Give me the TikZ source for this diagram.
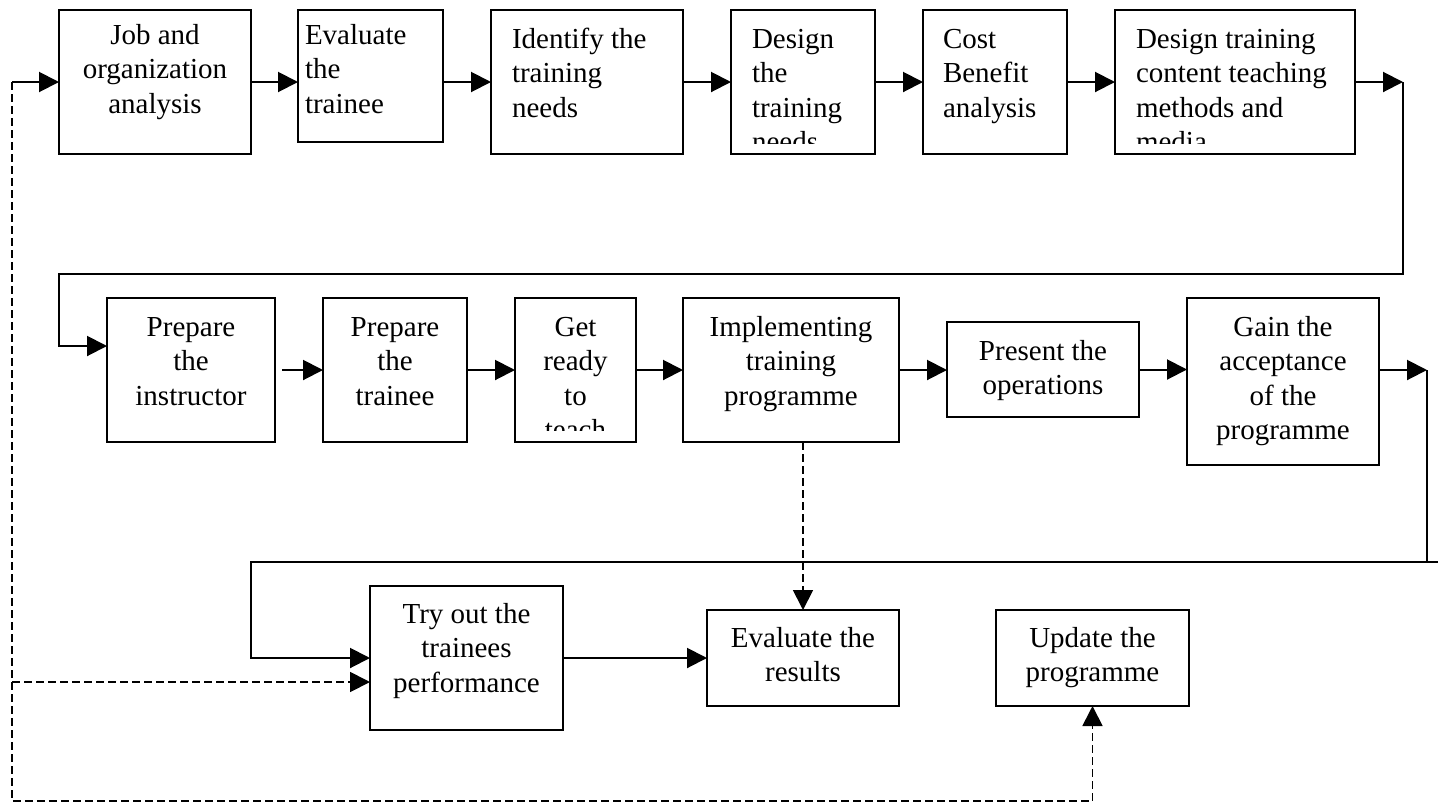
\documentclass[tikz,border=0pt]{standalone}
\usepackage{fontspec}
\setmainfont{Liberation Serif}
\usetikzlibrary{arrows.meta}
\begin{document}
\begin{tikzpicture}[x=1pt,y=-1pt,
  box/.style={draw, line width=2pt, inner sep=0pt, outer sep=0pt},
  txt/.style={inner sep=0pt, outer sep=0pt, font=\fontsize{29}{34.5}\selectfont},
  ctxt/.style={txt, anchor=north, align=center},
  ltxt/.style={txt, anchor=north west, align=left},
  ln/.style={line width=2pt},
  arr/.style={ln, -{Triangle[length=20pt,width=20pt]}},
  darr/.style={line width=1.8pt, dash pattern=on 8pt off 4pt, -{Triangle[length=20pt,width=20pt]}}
]
\useasboundingbox (0,0) rectangle (1440,804);
\newcommand{\fs}{\rule{0pt}{22pt}}
% ---------- row 1 ----------
\node[box, minimum width=192pt, minimum height=144pt] (b1) at (155,82) {};
\node[box, minimum width=145pt, minimum height=132pt] (b2) at (370.5,76) {};
\node[box, minimum width=192pt, minimum height=144pt] (b3) at (587,82) {};
\node[box, minimum width=144pt, minimum height=144pt] (b4) at (803,82) {};
\node[box, minimum width=144pt, minimum height=144pt] (b5) at (995,82) {};
\node[box, minimum width=240pt, minimum height=144pt] (b6) at (1235,82) {};
\node[ctxt] (t1) at (155,22) {\fs Job and\\organization\\analysis};
\node[ltxt] (t2) at (305,22) {\fs Evaluate\\the\\trainee};
\node[ltxt] (t3) at (512,26) {\fs Identify the\\training\\needs};
\begin{scope}
\clip (731,10) rectangle (875,143);
\node[ltxt] (t4) at (752,26) {\fs Design\\the\\training\\needs};
\end{scope}
\node[ltxt] (t5) at (943,26) {\fs Cost\\Benefit\\analysis};
\begin{scope}
\clip (1115,10) rectangle (1355,143);
\node[ltxt] (t6) at (1136,26) {\fs Design training\\content teaching\\methods and\\media};
\end{scope}
% ---------- row 2 ----------
\node[box, minimum width=168pt, minimum height=144pt] (pi) at (191,370) {};
\node[box, minimum width=144pt, minimum height=144pt] (pt) at (395,370) {};
\node[box, minimum width=121pt, minimum height=144pt] (gr) at (575.5,370) {};
\node[box, minimum width=216pt, minimum height=144pt] (im) at (791,370) {};
\node[box, minimum width=192pt, minimum height=95pt] (pr) at (1043,369.5) {};
\node[box, minimum width=192pt, minimum height=167pt] (ga) at (1283,381.5) {};
\node[ctxt] (tpi) at (191,314) {\fs Prepare\\the\\instructor};
\node[ctxt] (tpt) at (395,314) {\fs Prepare\\the\\trainee};
\begin{scope}
\clip (515,298) rectangle (636,430);
\node[ctxt] (tgr) at (575.5,314) {\fs Get\\ready\\to\\teach};
\end{scope}
\node[ctxt] (tim) at (791,314) {\fs Implementing\\training\\programme};
\node[ctxt] (tpr) at (1043,338) {\fs Present the\\operations};
\node[ctxt] (tga) at (1283,314) {\fs Gain the\\acceptance\\of the\\programme};
% ---------- row 3 ----------
\node[box, minimum width=193pt, minimum height=144pt] (tr) at (466.5,658) {};
\node[box, minimum width=192pt, minimum height=96pt] (ev) at (803,658) {};
\node[box, minimum width=193pt, minimum height=96pt] (up) at (1092.5,658) {};
\node[ctxt] (ttr) at (466.5,601) {\fs Try out the\\trainees\\performance};
\node[ctxt] (tev) at (803,625) {\fs Evaluate the\\results};
\node[ctxt] (tup) at (1092.5,625) {\fs Update the\\programme};
% ---------- connectors row 1 ----------
\draw[arr] (b1.east) -- (b1.east -| b2.west);
\draw[arr] (b2.east |- b1.east) -- (b3.west);
\draw[arr] (b3.east) -- (b4.west);
\draw[arr] (b4.east) -- (b5.west);
\draw[arr] (b5.east) -- (b6.west);
\coordinate (c1) at (1403,82);
\coordinate (c2) at (1403,274);
\coordinate (c3) at (59,274);
\coordinate (c4) at (59,346);
\draw[arr] (b6.east) -- (c1);
\draw[arr] (c1) -- (c2) -- (c3) -- (c4) -- (c4 -| pi.west);
% ---------- connectors row 2 ----------
\draw[arr] ([xshift=7pt]pi.east) -- (pt.west);
\draw[arr] (pt.east) -- (gr.west);
\draw[arr] (gr.east) -- (im.west);
\draw[arr] (im.east) -- (im.east -| pr.west);
\draw[arr] (pr.east) -- (pr.east -| ga.west);
\coordinate (d1) at (1427,370);
\coordinate (d2) at (1427,562);
\coordinate (d3) at (251,562);
\coordinate (d4) at (251,658);
\coordinate (d5) at (1438,562);
\draw[arr] (ga.east |- d1) -- (d1);
\draw[arr] (d1) -- (d2) -- (d3) -- (d4) -- (tr.west);
\draw[ln] (d2) -- (d5);
% ---------- connectors row 3 ----------
\draw[arr] (tr.east) -- (ev.west);
\draw[darr] (im.south -| ev.north) -- (ev.north);
\coordinate (e1) at (12,82);
\coordinate (e2) at (12,801);
\coordinate (e3) at (12,682);
\draw[arr] (e1) -- (b1.west);
\draw[darr] (e1) -- (e2) -- (e2 -| up.south) -- (up.south);
\draw[darr] (e3) -- (e3 -| tr.west);
\end{tikzpicture}
\end{document}
